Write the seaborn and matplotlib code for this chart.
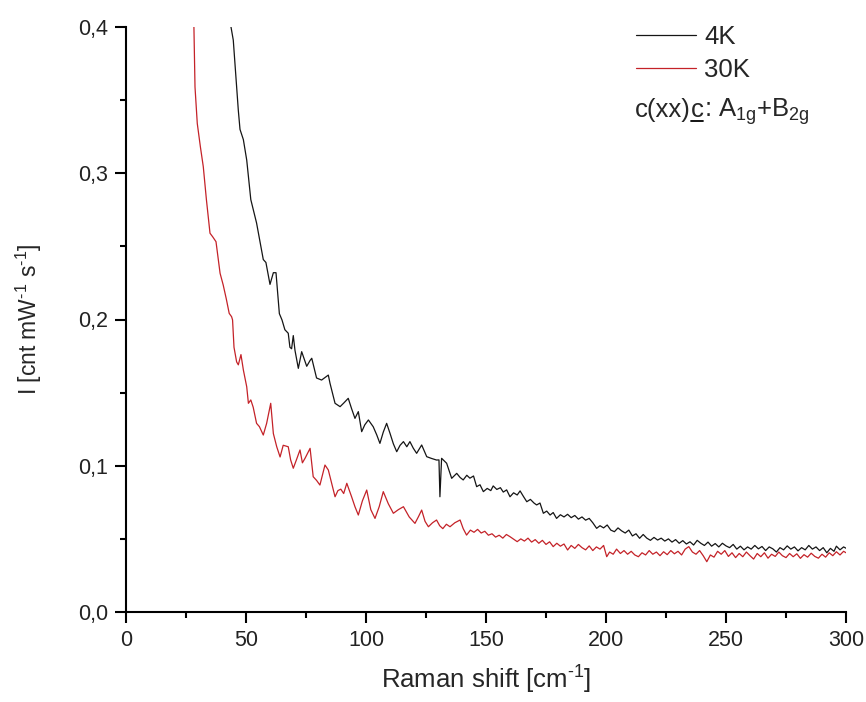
import numpy as np
import pandas as pd
import matplotlib
matplotlib.use("Agg")
import matplotlib.pyplot as plt
from matplotlib.ticker import FuncFormatter, MultipleLocator
from matplotlib.lines import Line2D
import seaborn as sns

# ---- data: (Raman shift, intensity) ----
points_4k = [
    (42.5, 0.42), (43.75, 0.400), (44.7, 0.391), (46.8, 0.343), (47.5, 0.330), (48.9, 0.323),
    (50.3, 0.309), (52.0, 0.282), (54.4, 0.266), (57.2, 0.241), (58.3, 0.239), (60.0, 0.224),
    (61.4, 0.232), (62.5, 0.232), (63.9, 0.204), (65.0, 0.1997), (66.2, 0.193), (67.6, 0.1906),
    (68.3, 0.181), (69.0, 0.180), (69.7, 0.189), (70.4, 0.179), (71.8, 0.1666), (73.2, 0.178),
    (75.3, 0.168), (76.7, 0.172), (77.4, 0.1735), (79.4, 0.160), (81.5, 0.1586), (84.3, 0.162),
    (85.0, 0.1564), (87.1, 0.1427), (89.2, 0.1404), (90.8, 0.1430), (92.6, 0.1461), (94.0, 0.1390),
    (95.4, 0.1324), (96.8, 0.137), (98.2, 0.1233), (99.5, 0.1280), (101.0, 0.1313), (103.0, 0.1267),
    (104.5, 0.1210), (105.8, 0.1153), (107.2, 0.1230), (108.6, 0.129), (110.0, 0.1222),
    (111.4, 0.1150), (112.8, 0.1096), (114.2, 0.1140), (115.6, 0.1165), (117.0, 0.1130),
    (118.3, 0.1165), (119.7, 0.1120), (121.1, 0.1085), (123.2, 0.1142), (125.3, 0.1062),
    (127.3, 0.1050), (129.4, 0.1039), (130.4, 0.1040), (130.8, 0.0788), (131.5, 0.1051),
    (133.6, 0.1017), (135.7, 0.0914), (137.8, 0.0948), (139.2, 0.0920),
    (140.5, 0.0903), (142.0, 0.0935), (143.3, 0.0915), (144.8, 0.0930), (146.1, 0.0857),
    (147.5, 0.0870), (148.9, 0.0823), (150.5, 0.0845), (152.0, 0.0830), (153.0, 0.0862),
    (154.5, 0.0838), (156.0, 0.0850), (157.2, 0.0820), (158.6, 0.0835), (160.0, 0.0788),
    (161.5, 0.0815), (163.0, 0.0800), (164.2, 0.0828), (165.6, 0.0790), (167.0, 0.0754),
    (168.5, 0.0770), (170.0, 0.0745), (171.1, 0.0732), (172.5, 0.0745), (173.9, 0.0675),
    (175.3, 0.0690), (176.7, 0.0663), (178.0, 0.0680), (179.4, 0.0640), (181.0, 0.0665),
    (182.5, 0.0650), (184.0, 0.0668), (185.5, 0.0645), (187.0, 0.0660), (188.5, 0.0635),
    (190.0, 0.0650), (191.5, 0.0628), (193.0, 0.0640), (194.5, 0.0610), (196.1, 0.0572),
    (197.5, 0.0590), (199.0, 0.0575), (200.5, 0.0595), (202.0, 0.0560), (203.5, 0.0549),
    (205.0, 0.0575), (206.5, 0.0555), (208.0, 0.0540), (209.5, 0.0560), (211.0, 0.0520),
    (212.5, 0.0535), (214.0, 0.0504), (215.5, 0.0530), (217.0, 0.0505), (218.5, 0.0490),
    (220.0, 0.0510), (221.5, 0.0492), (223.0, 0.0505), (224.5, 0.0485), (226.0, 0.0500),
    (227.5, 0.0478), (229.0, 0.0495), (230.5, 0.0470), (232.0, 0.0488), (233.5, 0.0465),
    (235.0, 0.0480), (236.5, 0.0458), (238.0, 0.0490), (239.5, 0.0470), (241.0, 0.0455),
    (242.5, 0.0478), (244.0, 0.0450), (245.5, 0.0468), (247.0, 0.0445), (248.5, 0.0470),
    (250.0, 0.0452), (251.5, 0.0440), (253.0, 0.0462), (254.5, 0.0430), (256.0, 0.0450),
    (257.5, 0.0425), (259.0, 0.0445), (260.5, 0.0430), (262.0, 0.0455), (263.5, 0.0432),
    (265.0, 0.0448), (266.5, 0.0420), (268.0, 0.0445), (269.5, 0.0432), (271.0, 0.0410),
    (272.5, 0.0440), (274.0, 0.0425), (275.5, 0.0452), (277.0, 0.0430), (278.5, 0.0445),
    (280.0, 0.0418), (281.5, 0.0440), (283.0, 0.0425), (284.5, 0.0455), (286.0, 0.0430),
    (287.5, 0.0445), (289.0, 0.0420), (290.5, 0.0440), (292.0, 0.0405), (293.5, 0.0435),
    (295.0, 0.0415), (296.0, 0.0450), (297.5, 0.0425), (299.0, 0.0445), (300.0, 0.0436),
]

points_30k = [
    (27.5, 0.42), (28.3, 0.400), (28.75, 0.359), (29.7, 0.334), (31.0, 0.318), (32.2, 0.3045),
    (33.5, 0.282), (35.0, 0.259), (36.1, 0.2566), (37.5, 0.2532), (39.2, 0.2316), (40.5, 0.2236),
    (41.8, 0.214), (43.0, 0.2042), (44.0, 0.2019), (44.4, 0.1997), (45.0, 0.181), (46.1, 0.171),
    (46.8, 0.169), (47.9, 0.176), (48.9, 0.1655), (50.3, 0.154), (51.0, 0.1427), (52.0, 0.145),
    (53.0, 0.140), (54.4, 0.129), (55.6, 0.1267), (57.2, 0.121), (58.6, 0.129), (60.3, 0.1427),
    (61.4, 0.122), (62.8, 0.113), (64.2, 0.106), (65.5, 0.114), (67.6, 0.113), (68.6, 0.104),
    (69.7, 0.0983), (71.0, 0.1040), (72.5, 0.1108), (73.5, 0.1020), (74.6, 0.1051), (76.7, 0.1119),
    (78.0, 0.0925), (79.4, 0.0900), (80.8, 0.0868), (82.9, 0.1005), (84.3, 0.0971), (85.7, 0.0880),
    (87.1, 0.0788), (88.3, 0.0830), (89.5, 0.0840), (90.7, 0.0810), (92.0, 0.0880), (94.0, 0.0788),
    (95.4, 0.0720), (96.8, 0.0663), (98.5, 0.0760), (100.3, 0.0834), (102.0, 0.0700),
    (103.75, 0.0640), (105.5, 0.0720), (107.2, 0.0823), (109.3, 0.0740), (111.4, 0.0675),
    (113.5, 0.0700), (115.6, 0.0720), (118.0, 0.0650), (120.4, 0.0606), (121.8, 0.0650),
    (123.2, 0.0697), (124.6, 0.0620), (126.0, 0.0583), (127.7, 0.0610), (129.4, 0.0629),
    (130.7, 0.0590), (132.0, 0.0570), (133.5, 0.0600), (135.0, 0.0583), (137.0, 0.0610),
    (139.2, 0.0629), (140.5, 0.0570),
    (141.9, 0.0526), (143.5, 0.0560), (145.0, 0.0545), (146.5, 0.0565), (148.0, 0.0540),
    (149.5, 0.0552), (151.0, 0.0525), (152.5, 0.0535), (154.0, 0.0512), (155.5, 0.0525),
    (157.0, 0.0505), (158.5, 0.0530), (160.0, 0.0515), (161.5, 0.0498), (163.0, 0.0481),
    (164.5, 0.0500), (166.0, 0.0485), (167.5, 0.0505), (169.0, 0.0478), (170.5, 0.0495),
    (172.0, 0.0470), (173.5, 0.0490), (175.0, 0.0462), (176.5, 0.0480), (178.0, 0.0447),
    (179.5, 0.0470), (181.0, 0.0450), (182.5, 0.0465), (184.0, 0.0424), (185.5, 0.0455),
    (187.0, 0.0435), (188.5, 0.0462), (190.0, 0.0440), (191.5, 0.0425), (193.0, 0.0452),
    (194.5, 0.0420), (196.0, 0.0445), (197.5, 0.0430), (199.0, 0.0455), (200.3, 0.0378),
    (201.5, 0.0410), (203.0, 0.0395), (204.4, 0.0430), (206.0, 0.0400), (207.5, 0.0420),
    (209.0, 0.0395), (210.5, 0.0415), (212.0, 0.0390), (213.5, 0.0378), (215.0, 0.0405),
    (216.5, 0.0390), (218.0, 0.0420), (219.5, 0.0395), (221.0, 0.0410), (222.5, 0.0385),
    (224.0, 0.0412), (225.5, 0.0392), (227.0, 0.0420), (228.5, 0.0398), (230.0, 0.0415),
    (231.5, 0.0390), (233.0, 0.0430), (234.5, 0.0447), (236.0, 0.0410), (237.5, 0.0395),
    (239.0, 0.0420), (240.5, 0.0385), (242.0, 0.0344), (243.5, 0.0390), (245.0, 0.0375),
    (246.5, 0.0415), (248.0, 0.0395), (249.5, 0.0420), (251.0, 0.0380), (252.5, 0.0405),
    (254.0, 0.0372), (255.5, 0.0400), (257.0, 0.0378), (258.5, 0.0410), (260.0, 0.0385),
    (261.5, 0.0362), (263.0, 0.0400), (264.5, 0.0378), (266.0, 0.0405), (267.5, 0.0368),
    (269.0, 0.0395), (270.5, 0.0380), (272.0, 0.0410), (273.5, 0.0385), (275.0, 0.0372),
    (276.5, 0.0400), (278.0, 0.0378), (279.5, 0.0398), (281.0, 0.0367), (282.5, 0.0392),
    (284.0, 0.0375), (285.5, 0.0402), (287.0, 0.0380), (288.5, 0.0368), (290.0, 0.0395),
    (291.5, 0.0375), (293.0, 0.0405), (294.5, 0.0385), (296.0, 0.0412), (297.5, 0.0390),
    (299.0, 0.0415), (300.0, 0.0405),
]

series_labels = ["4K", "30K"]
x_ticks = [0, 50, 100, 150, 200, 250, 300]
y_ticks = [0.0, 0.1, 0.2, 0.3, 0.4]

# ---- style ----
sns.set_style("ticks")
plt.rcParams['font.family'] = ['Liberation Sans', 'DejaVu Sans']
plt.rcParams['mathtext.fontset'] = 'custom'
plt.rcParams['mathtext.rm'] = 'Liberation Sans'
plt.rcParams['mathtext.it'] = 'Liberation Sans:italic'
plt.rcParams['mathtext.bf'] = 'Liberation Sans:bold'
plt.rcParams['mathtext.default'] = 'regular'

frames = []
for lab, pts in zip(series_labels, [points_4k, points_30k]):
    xs, ys = zip(*pts)
    frames.append(pd.DataFrame({"x": xs, "y": ys, "T": lab}))
df = pd.concat(frames, ignore_index=True)

fig = plt.figure(figsize=(8.66, 7.02), dpi=100)
ax = fig.add_axes([126 / 866, (702 - 612) / 702, 720 / 866, 585 / 702])

palette = {"4K": "#151515", "30K": "#c42228"}
sns.lineplot(data=df, x="x", y="y", hue="T", palette=palette, estimator=None, sort=False,
             linewidth=0.9, ax=ax, legend=False)

ax.set_xlim(0, 300)
ax.set_ylim(0, 0.4)
ax.set_xticks(x_ticks)
ax.set_yticks(y_ticks)
ax.xaxis.set_minor_locator(MultipleLocator(25))
ax.yaxis.set_minor_locator(MultipleLocator(0.05))
ax.xaxis.set_major_formatter(FuncFormatter(lambda v, p: f"{v:.0f}"))
ax.yaxis.set_major_formatter(FuncFormatter(lambda v, p: f"{v:.1f}".replace('.', ',')))

for s in ["top", "right"]:
    ax.spines[s].set_visible(False)
for s in ["left", "bottom"]:
    ax.spines[s].set_linewidth(1.5)
    ax.spines[s].set_color("black")
ax.tick_params(which="major", direction="out", length=8, width=1.5, labelsize=15.5,
               colors="black", pad=5)
ax.tick_params(which="minor", direction="out", length=4.5, width=1.5, colors="black")
for lab in ax.get_xticklabels() + ax.get_yticklabels():
    lab.set_color("#222222")

ax.set_xlabel(r"Raman shift [cm$^{\text{-}1}$]", fontsize=18.5, labelpad=9)
ax.set_ylabel(r"I [cnt mW$^{\text{-}1}$ s$^{\text{-}1}$]", fontsize=16.5, labelpad=24)

handles = [Line2D([], [], color=palette[k], linewidth=0.9) for k in series_labels]
leg = fig.legend(handles, series_labels, loc="upper left",
                 bbox_to_anchor=(636 / 866, 1 - 25 / 702), frameon=False, fontsize=18.5,
                 handlelength=2.35, handletextpad=0.3, labelspacing=0.35,
                 borderaxespad=0, borderpad=0)

# third legend line with underlined 'c'
fig.canvas.draw()
r = fig.canvas.get_renderer()
x0 = 635 / 866
yb = 1 - 117 / 702
fs3 = 18.5
t1 = fig.text(x0, yb, "c(xx)", fontsize=fs3, va="baseline", ha="left")
bb1 = t1.get_window_extent(r)
xc = bb1.x1 / fig.bbox.width
t2 = fig.text(xc, yb, "c", fontsize=fs3, va="baseline", ha="left")
bb2 = t2.get_window_extent(r)
xr = bb2.x1 / fig.bbox.width
t3 = fig.text(xr, yb, ": A$_{1g}$+B$_{2g}$", fontsize=fs3, va="baseline", ha="left")
uy = yb - 4 / 702
fig.add_artist(Line2D([xc + 0.5 / 866, xr - 0.5 / 866], [uy, uy], color="black",
                      linewidth=1.3, transform=fig.transFigure))

fig.savefig("out.png", dpi=100)
